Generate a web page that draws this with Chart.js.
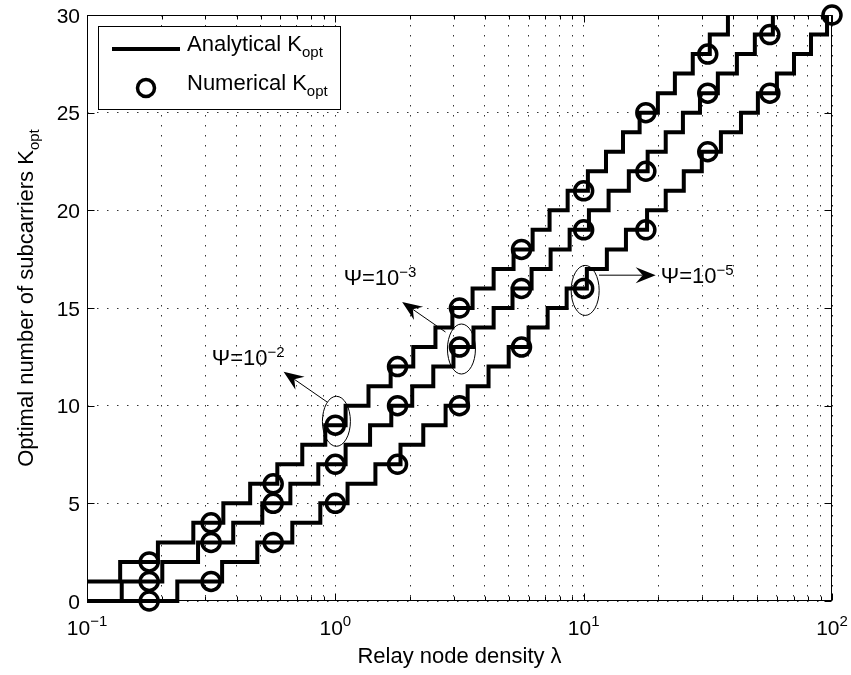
<!DOCTYPE html>
<html>
<head>
<meta charset="utf-8">
<title>Optimal number of subcarriers vs relay node density</title>
<script src="https://cdn.jsdelivr.net/npm/chart.js@4.4.1/dist/chart.umd.min.js"></script>
<style>
  html, body { margin: 0; padding: 0; background: #fff; }
  canvas { display: block; }
</style>
</head>
<body>
<canvas id="kopt" width="851" height="675"></canvas>
<script>
// axes
const xGridValues = [0.1, 0.2, 0.3, 0.4, 0.5, 0.6, 0.7, 0.8, 0.9,
  1, 2, 3, 4, 5, 6, 7, 8, 9, 10, 20, 30, 40, 50, 60, 70, 80, 90, 100];
const xMajor = [0.1, 1, 10, 100];
const xMajorExp = ['\u22121', '0', '1', '2'];
const yTicks = [0, 5, 10, 15, 20, 25, 30];

// analytical K_opt: level at lambda = 0.1, then lambda where K goes up by one
const start1e2 = 1;
const steps1e2 = [0.136, 0.193, 0.268, 0.354, 0.454, 0.584, 0.736, 0.911, 1.10, 1.36,
  1.67, 2.06, 2.53, 2.96, 3.57, 4.34, 5.22, 6.23, 7.29, 8.62,
  10.4, 12.3, 14.4, 16.8, 19.9, 23.3, 27.5, 32.2, 38.1];
const start1e3 = 0;
const steps1e3 = [0.138, 0.201, 0.280, 0.388, 0.508, 0.659, 0.854, 1.10, 1.38, 1.68,
  2.04, 2.48, 2.99, 3.60, 4.34, 5.17, 6.17, 7.36, 8.78, 10.5,
  12.6, 15.2, 18.1, 21.4, 25.1, 29.4, 34.7, 41.4, 48.9, 57.8];
const start1e5 = 0;
const steps1e5 = [0.231, 0.350, 0.485, 0.671, 0.870, 1.12, 1.45, 1.83, 2.26, 2.78,
  3.41, 4.14, 4.99, 6.00, 7.16, 8.54, 10.3, 12.4, 14.8, 18.0,
  21.4, 25.3, 29.9, 35.7, 43.0, 50.3, 60.0, 70.3, 82.3, 95.5];

// numerical K_opt
const numLambda = [0.178, 0.316, 0.562, 1, 1.78, 3.16, 5.62, 10, 17.8, 31.6, 56.2, 100];
const num1e2 = [2, 4, 6, 9, 12, 15, 18, 21, 25, 28];
const num1e3 = [1, 3, 5, 7, 10, 13, 16, 19, 22, 26, 29];
const num1e5 = [0, 1, 3, 5, 7, 10, 13, 16, 19, 23, 26, 30];

// Psi annotations (lambda, K)
const psiExp = ['\u22122', '\u22123', '\u22125'];
const psiTextAt = [[0.318, 12.07], [1.08, 16.2], [20.45, 16.28]];
const psiEllipseAt = [[1.01, 9.2], [3.22, 12.9], [10.14, 15.9]];
const psiArrowFrom = [[0.926, 10.19], [2.777, 13.77], [11.53, 16.68]];
const psiArrowTo = [[0.619, 11.73], [1.858, 15.31], [19.5, 16.68]];

const FONT = '"Liberation Sans", Arial, Helvetica, sans-serif';

function stairs(start, steps) {
  const pts = [{x: 0.1, y: start}];
  steps.forEach((l, i) => pts.push({x: l, y: start + i + 1}));
  return pts;
}
function circles(ks) {
  return ks.map((k, i) => ({x: numLambda[i], y: k}));
}

function drawParts(ctx, parts, x, y, align) {
  let width = 0;
  for (const p of parts) {
    ctx.font = p.size + 'px ' + FONT;
    p.w = ctx.measureText(p.text).width;
    width += p.w;
  }
  let cx = align === 'center' ? x - width / 2 : (align === 'right' ? x - width : x);
  ctx.textAlign = 'left';
  ctx.textBaseline = 'alphabetic';
  for (const p of parts) {
    ctx.font = p.size + 'px ' + FONT;
    ctx.fillText(p.text, cx, y + (p.dy || 0));
    cx += p.w;
  }
}

function arrow(ctx, x0, y0, x1, y1) {
  const a = Math.atan2(y1 - y0, x1 - x0);
  const len = 20, half = 8, notch = 13;
  ctx.beginPath();
  ctx.moveTo(x0, y0);
  ctx.lineTo(x1 - Math.cos(a) * notch, y1 - Math.sin(a) * notch);
  ctx.lineWidth = 1;
  ctx.stroke();
  ctx.save();
  ctx.translate(x1, y1);
  ctx.rotate(a);
  ctx.beginPath();
  ctx.moveTo(0, 0);
  ctx.lineTo(-len, -half);
  ctx.lineTo(-notch, 0);
  ctx.lineTo(-len, half);
  ctx.closePath();
  ctx.fill();
  ctx.restore();
}

const matlabLook = {
  id: 'matlabLook',
  afterDatasetsDraw(chart) {
    const ctx = chart.ctx, xs = chart.scales.x, ys = chart.scales.y;
    ctx.save();
    ctx.strokeStyle = '#000';
    ctx.fillStyle = '#000';
    for (let i = 0; i < psiExp.length; i++) {
      const ex = xs.getPixelForValue(psiEllipseAt[i][0]);
      const ey = ys.getPixelForValue(psiEllipseAt[i][1]);
      ctx.beginPath();
      ctx.ellipse(ex, ey, 14, 25, 0, 0, Math.PI * 2);
      ctx.lineWidth = 1;
      ctx.stroke();
      arrow(ctx,
        xs.getPixelForValue(psiArrowFrom[i][0]), ys.getPixelForValue(psiArrowFrom[i][1]),
        xs.getPixelForValue(psiArrowTo[i][0]), ys.getPixelForValue(psiArrowTo[i][1]));
      drawParts(ctx, [
        {text: '\u03A8=10', size: 22},
        {text: psiExp[i], size: 15, dy: -8}
      ], xs.getPixelForValue(psiTextAt[i][0]), ys.getPixelForValue(psiTextAt[i][1]), 'left');
    }
    ctx.restore();
  },
  afterDraw(chart) {
    const ctx = chart.ctx, xs = chart.scales.x, ys = chart.scales.y;
    const a = chart.chartArea;
    const L = Math.round(a.left) + 0.5, R = Math.round(a.right) - 0.5;
    const T = Math.round(a.top) + 0.5, B = Math.round(a.bottom) - 0.5;
    ctx.save();
    ctx.strokeStyle = '#000';
    ctx.fillStyle = '#000';
    ctx.lineWidth = 1;
    ctx.strokeRect(L, T, R - L, B - T);

    // inward tick marks on all four sides
    ctx.beginPath();
    xGridValues.forEach(v => {
      const px = Math.round(xs.getPixelForValue(v)) + 0.5;
      const len = xMajor.includes(v) ? 7 : 4;
      ctx.moveTo(px, B); ctx.lineTo(px, B - len);
      ctx.moveTo(px, T); ctx.lineTo(px, T + len);
    });
    yTicks.forEach(v => {
      const py = Math.round(ys.getPixelForValue(v)) + 0.5;
      ctx.moveTo(L, py); ctx.lineTo(L + 7, py);
      ctx.moveTo(R, py); ctx.lineTo(R - 7, py);
    });
    ctx.stroke();

    // tick labels
    ctx.font = '21px ' + FONT;
    ctx.textAlign = 'right';
    ctx.textBaseline = 'alphabetic';
    yTicks.forEach(v => {
      ctx.fillText(String(v), 80, ys.getPixelForValue(v) + 7.5);
    });
    xMajor.forEach((v, i) => {
      drawParts(ctx, [
        {text: '10', size: 21},
        {text: xMajorExp[i], size: 15, dy: -9}
      ], xs.getPixelForValue(v), 635, 'center');
    });

    // axis titles
    drawParts(ctx, [{text: 'Relay node density \u03BB', size: 22}], (a.left + a.right) / 2, 663, 'center');
    ctx.save();
    ctx.translate(33, 298);
    ctx.rotate(-Math.PI / 2);
    drawParts(ctx, [
      {text: 'Optimal number of subcarriers K', size: 22},
      {text: 'opt', size: 15, dy: 6}
    ], 0, 0, 'center');
    ctx.restore();

    // legend
    ctx.fillStyle = '#fff';
    ctx.fillRect(98.5, 26.5, 242, 83);
    ctx.strokeRect(98.5, 26.5, 242, 83);
    ctx.fillStyle = '#000';
    ctx.lineWidth = 4;
    ctx.beginPath();
    ctx.moveTo(112, 49);
    ctx.lineTo(180, 49);
    ctx.stroke();
    ctx.lineWidth = 3.5;
    ctx.beginPath();
    ctx.arc(146, 88, 8.5, 0, Math.PI * 2);
    ctx.stroke();
    drawParts(ctx, [
      {text: 'Analytical K', size: 22},
      {text: 'opt', size: 15, dy: 6}
    ], 187, 51, 'left');
    drawParts(ctx, [
      {text: 'Numerical K', size: 22},
      {text: 'opt', size: 15, dy: 6}
    ], 187, 90, 'left');
    ctx.restore();
  }
};

const stairStyle = {
  showLine: true,
  stepped: 'before',
  borderColor: '#000',
  borderWidth: 4,
  borderJoinStyle: 'miter',
  borderCapStyle: 'butt',
  pointRadius: 0,
  fill: false,
  clip: false
};
const circleStyle = {
  showLine: false,
  pointStyle: 'circle',
  pointRadius: 9,
  pointBorderWidth: 3.5,
  pointBorderColor: '#000',
  pointBackgroundColor: 'rgba(0,0,0,0)',
  clip: false
};

new Chart(document.getElementById('kopt'), {
  type: 'scatter',
  data: {
    datasets: [
      Object.assign({label: 'Numerical, Psi=1e-2', data: circles(num1e2)}, circleStyle),
      Object.assign({label: 'Numerical, Psi=1e-3', data: circles(num1e3)}, circleStyle),
      Object.assign({label: 'Numerical, Psi=1e-5', data: circles(num1e5)}, circleStyle),
      Object.assign({label: 'Analytical, Psi=1e-2', data: stairs(start1e2, steps1e2)}, stairStyle),
      Object.assign({label: 'Analytical, Psi=1e-3', data: stairs(start1e3, steps1e3)}, stairStyle),
      Object.assign({label: 'Analytical, Psi=1e-5', data: stairs(start1e5, steps1e5)}, stairStyle)
    ]
  },
  options: {
    responsive: false,
    animation: false,
    events: [],
    layout: { padding: { left: 87, right: 19, top: 15, bottom: 74 } },
    plugins: {
      legend: { display: false },
      tooltip: { enabled: false }
    },
    scales: {
      x: {
        type: 'logarithmic',
        min: 0.1,
        max: 100,
        afterBuildTicks: (scale) => {
          scale.ticks = xGridValues.map(v => ({ value: v }));
        },
        afterFit: (scale) => { scale.height = 0; },
        ticks: { display: false, autoSkip: false },
        grid: { color: '#333', lineWidth: 1, drawTicks: false },
        border: { display: false, dash: [1.5, 8.5] }
      },
      y: {
        min: 0,
        max: 30,
        afterBuildTicks: (scale) => {
          scale.ticks = yTicks.map(v => ({ value: v }));
        },
        afterFit: (scale) => { scale.width = 0; },
        ticks: { display: false, autoSkip: false },
        grid: { color: '#333', lineWidth: 1, drawTicks: false },
        border: { display: false, dash: [1.5, 8.5] }
      }
    }
  },
  plugins: [matlabLook]
});
</script>
</body>
</html>
